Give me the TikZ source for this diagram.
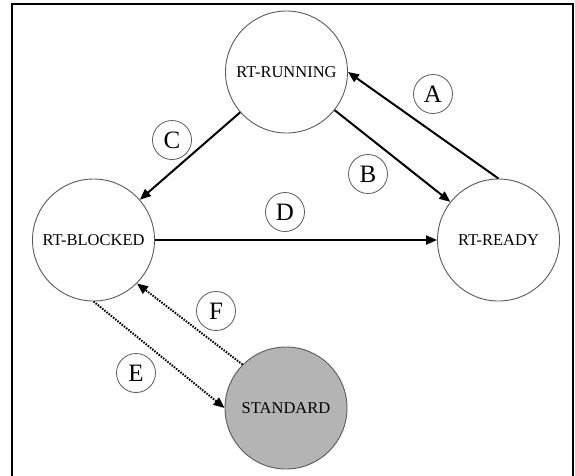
\documentclass[tikz,border=0pt]{standalone}
\usepackage{fontspec}
\setmainfont{Liberation Serif}
\usetikzlibrary{arrows.meta}
\definecolor{stdfill}{RGB}{180,180,180}
\definecolor{ringgray}{RGB}{90,90,90}
\tikzset{
  state/.style={circle, draw=ringgray, line width=0.9pt, minimum size=122pt, inner sep=0pt, font=\fontsize{16.5}{17}\selectfont},
  tag/.style={circle, draw=ringgray, line width=0.8pt, minimum size=39pt, inner sep=0pt, font=\fontsize{25}{26}\selectfont},
  trans/.style={line width=2pt, -{Triangle[length=11pt,width=9pt]}},
  dottrans/.style={trans, dash pattern=on 1.5pt off 1.3pt},
  frame/.style={line width=2.2pt}
}
\begin{document}
\begin{tikzpicture}[x=1pt,y=-1pt]
\useasboundingbox (0,0) rectangle (575,475);
\coordinate (fbl) at (12,477);
\coordinate (ftl) at (12,4);
\coordinate (ftr) at (573,4);
\coordinate (fbr) at (573,477);
\draw[frame] (fbl) -- (ftl) -- (ftr) -- (fbr);

\node[state] (run) at (286.5,72) {RT-RUNNING};
\node[state] (blk) at (93.5,240) {RT-BLOCKED};
\node[state] (rdy) at (498.5,240) {RT-READY};
\node[state, fill=stdfill] (std) at (286,408) {STANDARD};

\node[tag] (A) at (433,94) {A};
\node[tag] (B) at (368,174) {B};
\node[tag] (C) at (172,140) {C};
\node[tag] (D) at (285,212) {D};
\node[tag] (E) at (136,373) {E};
\node[tag] (F) at (216,311) {F};

\draw[trans] (rdy.north) -- (run.east);
\draw[trans] (run) -- (rdy);
\draw[trans] (run) -- (blk);
\draw[trans] (blk.east) -- (rdy.west);
\draw[dottrans] (blk.south) -- (std.west);
\draw[dottrans] (std.north west) -- (blk.south east);
\end{tikzpicture}
\end{document}
